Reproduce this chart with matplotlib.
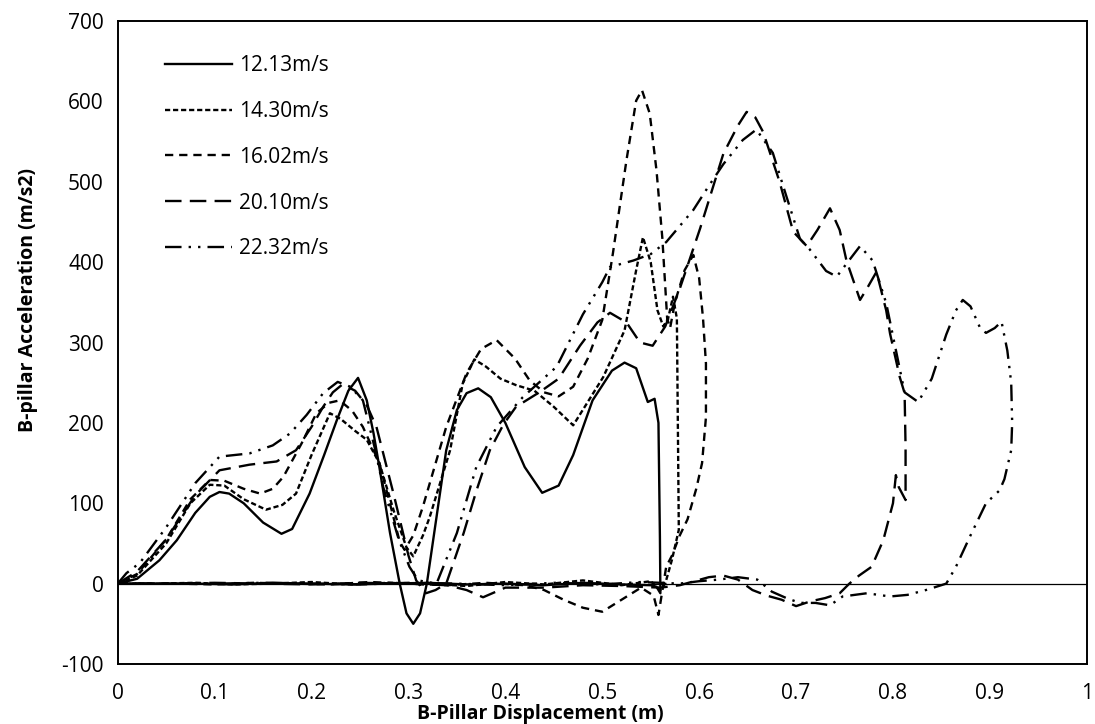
import matplotlib
matplotlib.use("Agg")
import matplotlib.pyplot as plt

plt.rcParams['font.family'] = ['Open Sans', 'DejaVu Sans']
plt.rcParams['axes.unicode_minus'] = False

# series labels
labels = ['12.13m/s', '14.30m/s', '16.02m/s', '20.10m/s', '22.32m/s']

# 12.13 m/s (loading, then unloading back along zero)
disp_1213 = [0, 0.02, 0.043, 0.061, 0.08, 0.095, 0.105, 0.115, 0.13, 0.15, 0.169, 0.18,
             0.198, 0.213, 0.226, 0.238, 0.248, 0.257, 0.264, 0.27, 0.281, 0.291, 0.298,
             0.305, 0.312, 0.319, 0.329, 0.339, 0.35, 0.36, 0.372, 0.385, 0.40, 0.42, 0.438,
             0.455, 0.47, 0.49, 0.51, 0.523, 0.535, 0.547, 0.554, 0.558, 0.5595, 0.560, 0.556,
             0.55, 0.52, 0.48, 0.44, 0.40, 0.36, 0.32, 0.28, 0.24, 0.20, 0.16, 0.12, 0.08, 0.04, 0]
acc_1213 = [0, 6, 29, 54, 88, 108, 114, 112, 100, 76, 62, 68,
            112, 160, 203, 240, 256, 228, 187, 145, 63, 0, -37,
            -50, -37, 0, 83, 166, 216, 237, 243, 232, 200, 145, 113,
            122, 160, 228, 265, 275, 268, 226, 230, 200, 58, -12, -4,
            -2, -1, 1, -2, 0, -1, 1, 0, -1, 0, 1, -1, 0, 0, 0]

# 14.30 m/s
disp_1430 = [0, 0.02, 0.05, 0.075, 0.095, 0.11, 0.13, 0.153, 0.17, 0.184, 0.2, 0.219, 0.23,
             0.245, 0.257, 0.27, 0.285, 0.298, 0.305, 0.315, 0.322, 0.343, 0.356, 0.368, 0.38,
             0.395, 0.411, 0.43, 0.45, 0.47, 0.484, 0.501, 0.523, 0.535, 0.542, 0.55, 0.557,
             0.563, 0.568, 0.573, 0.577, 0.578, 0.579, 0.572, 0.565, 0.56, 0.55, 0.52, 0.48,
             0.44, 0.40, 0.36, 0.32, 0.28, 0.24, 0.20, 0.16, 0.12, 0.08, 0.04, 0]
acc_1430 = [0, 10, 50, 100, 123, 122, 105, 92, 98, 112, 160, 212, 205,
            190, 179, 150, 90, 45, 34, 60, 83, 166, 249, 279, 270,
            255, 247, 240, 220, 197, 224, 257, 315, 390, 431, 400, 340,
            320, 330, 357, 330, 200, 67, 30, 0, -8, 3, -2, 4,
            -1, 2, -3, 0, 1, -1, 2, 0, -1, 1, 0, 0]

# 16.02 m/s
disp_1602 = [0, 0.02, 0.05, 0.075, 0.095, 0.11, 0.13, 0.147, 0.16, 0.171, 0.19, 0.205, 0.218,
             0.229, 0.242, 0.253, 0.27, 0.283, 0.291, 0.296, 0.305, 0.315, 0.339, 0.36, 0.375,
             0.391, 0.41, 0.425, 0.44, 0.455, 0.47, 0.485, 0.50, 0.511, 0.525, 0.535, 0.541,
             0.549, 0.556, 0.562, 0.567, 0.570, 0.575, 0.585, 0.594, 0.600, 0.604, 0.607, 0.607,
             0.603, 0.597, 0.588, 0.58, 0.572, 0.566, 0.558, 0.553, 0.54, 0.52, 0.50, 0.48,
             0.46, 0.44, 0.42, 0.38, 0.34, 0.30, 0.26, 0.22, 0.18, 0.14, 0.10, 0.06, 0.03, 0]
acc_1602 = [0, 12, 55, 105, 129, 128, 118, 112, 118, 133, 175, 212, 225,
            228, 215, 195, 150, 90, 52, 42, 60, 96, 195, 262, 292,
            303, 280, 253, 238, 233, 245, 280, 328, 411, 527, 601, 614,
            585, 514, 430, 330, 318, 350, 390, 409, 380, 330, 274, 207,
            150, 118, 80, 60, 35, 21, -39, -15, -5, -20, -35, -30,
            -20, -8, -2, 1, -2, 0, 2, -1, 0, 1, -1, 0, 0, 0]

# 20.10 m/s
disp_2010 = [0, 0.02, 0.05, 0.08, 0.105, 0.136, 0.164, 0.184, 0.2, 0.212, 0.222, 0.232, 0.245,
             0.257, 0.267, 0.285, 0.30, 0.308, 0.318, 0.328, 0.339, 0.357, 0.37, 0.384, 0.398,
             0.411, 0.435, 0.455, 0.477, 0.495, 0.508, 0.525, 0.539, 0.552, 0.565, 0.58, 0.601,
             0.625, 0.640, 0.649, 0.658, 0.666, 0.683, 0.697, 0.711, 0.722, 0.735, 0.745, 0.752,
             0.766, 0.774, 0.783, 0.793, 0.797, 0.807, 0.812, 0.813, 0.813, 0.806, 0.803, 0.80,
             0.79, 0.778, 0.765, 0.755, 0.745, 0.73, 0.715, 0.70, 0.685, 0.67, 0.655, 0.64,
             0.625, 0.61, 0.595, 0.58, 0.56, 0.52, 0.48, 0.44, 0.40, 0.377, 0.36, 0.34, 0.30,
             0.25, 0.20, 0.15, 0.10, 0.05, 0]
acc_2010 = [0, 15, 55, 110, 141, 148, 152, 166, 195, 220, 238, 248, 240,
            222, 195, 110, 35, 4, -12, -8, 0, 63, 115, 166, 198,
            220, 238, 255, 296, 325, 337, 325, 300, 296, 320, 367, 442,
            535, 570, 587, 580, 562, 500, 438, 420, 440, 467, 440, 402,
            353, 369, 388, 340, 311, 257, 237, 170, 104, 120, 135, 100,
            54, 21, 10, 0, -12, -18, -22, -28, -20, -15, -8, 5,
            10, 8, 3, -2, -5, -3, -2, -5, -5, -17, -8, -2, 0,
            1, -1, 0, 1, 0, 0]

# 22.32 m/s
disp_2232 = [0, 0.009, 0.023, 0.05, 0.08, 0.105, 0.136, 0.16, 0.178, 0.195, 0.212, 0.227,
             0.24, 0.253, 0.265, 0.274, 0.29, 0.301, 0.31, 0.329, 0.35, 0.37, 0.391, 0.418,
             0.453, 0.48, 0.50, 0.508, 0.532, 0.55, 0.566, 0.58, 0.594, 0.61, 0.625, 0.645,
             0.659, 0.676, 0.69, 0.704, 0.714, 0.731, 0.742, 0.752, 0.766, 0.779, 0.793, 0.812,
             0.826, 0.84, 0.855, 0.865, 0.872, 0.88, 0.89, 0.896, 0.905, 0.912, 0.918, 0.922,
             0.923, 0.922, 0.915, 0.91, 0.896, 0.88, 0.865, 0.855, 0.834, 0.815, 0.797, 0.773,
             0.748, 0.735, 0.72, 0.704, 0.69, 0.675, 0.66, 0.64, 0.62, 0.60, 0.58, 0.54, 0.50,
             0.45, 0.40, 0.35, 0.30, 0.25, 0.20, 0.15, 0.10, 0.05, 0]
acc_2232 = [0, 13, 26, 70, 125, 158, 162, 172, 187, 210, 237, 251,
            245, 228, 170, 120, 55, 21, 4, 0, 63, 145, 195, 232,
            270, 335, 375, 394, 402, 410, 425, 445, 465, 495, 522, 552,
            565, 536, 482, 429, 416, 389, 382, 398, 420, 402, 349, 238,
            226, 255, 310, 340, 353, 345, 318, 312, 318, 326, 290, 250,
            200, 166, 130, 116, 100, 60, 21, 0, -8, -14, -16, -12,
            -16, -27, -24, -24, -18, -10, 5, 8, 5, 3, 0, 2, -1,
            1, -2, 0, 1, -1, 0, 1, 0, 0, 0]

disp_series = [disp_1213, disp_1430, disp_1602, disp_2010, disp_2232]
acc_series = [acc_1213, acc_1430, acc_1602, acc_2010, acc_2232]
dash_styles = ['-', (0, (2.2, 1.2)), (0, (3.5, 2.5)), (0, (7, 3.5)), (0, (7, 3, 1, 3, 1, 3))]

fig = plt.figure(figsize=(10.95, 7.24), dpi=100)
ax = fig.add_axes([0.1075, 0.0829, 0.885, 0.888])

for x, y, lab, ls in zip(disp_series, acc_series, labels, dash_styles):
    ax.plot(x, y, color='black', linestyle=ls, linewidth=1.7, label=lab)

ax.axhline(0, color='black', linewidth=0.9)

ax.set_xlim(0, 1)
ax.set_ylim(-100, 700)
ax.set_xticks([0, 0.1, 0.2, 0.3, 0.4, 0.5, 0.6, 0.7, 0.8, 0.9, 1])
ax.set_xticklabels(['0', '0.1', '0.2', '0.3', '0.4', '0.5', '0.6', '0.7', '0.8', '0.9', '1'])
ax.set_yticks(range(-100, 701, 100))
ax.tick_params(length=0, labelsize=15)
ax.tick_params(axis='x', pad=14)
ax.tick_params(axis='y', pad=10)
for s in ax.spines.values():
    s.set_linewidth(1.4)

ax.set_xlabel('B-Pillar Displacement (m)', fontsize=14, fontweight='bold')
ax.set_ylabel('B-pillar Acceleration (m/s2)', fontsize=14, fontweight='bold')
ax.xaxis.set_label_coords(0.436, -0.062)
ax.yaxis.set_label_coords(-0.082, 0.566)

ax.legend(loc='upper left', bbox_to_anchor=(0.0488, 0.947), frameon=False, fontsize=15,
          handlelength=3.2, handletextpad=0.35, labelspacing=1.19, borderpad=0, borderaxespad=0)

fig.savefig('out.png', dpi=100)
